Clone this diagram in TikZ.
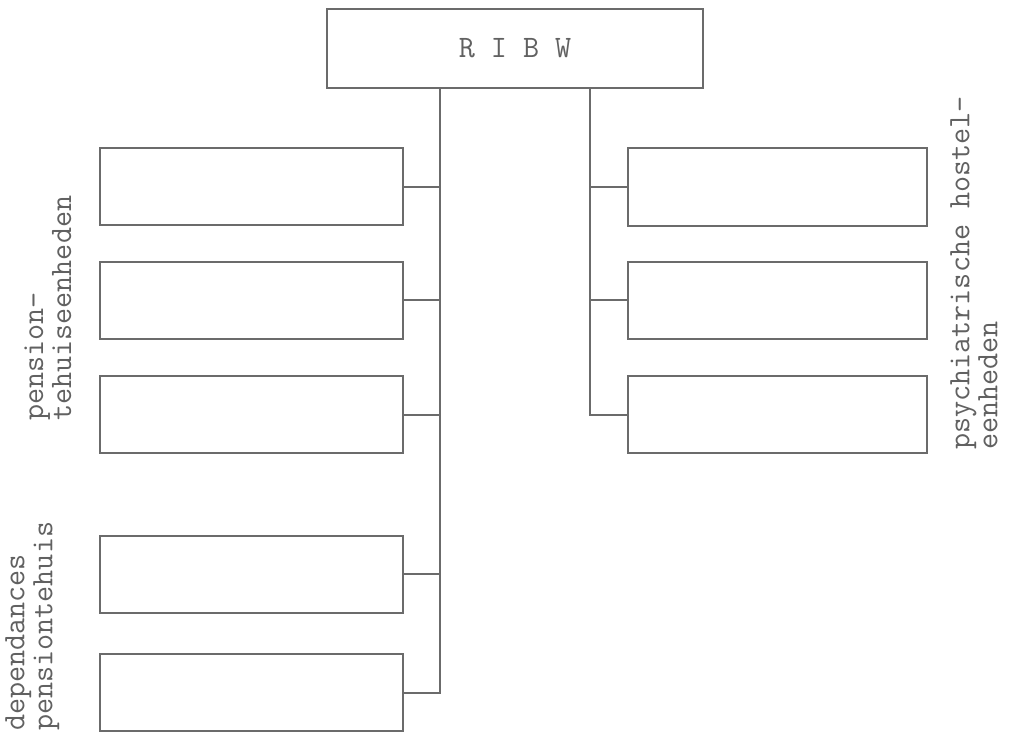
\documentclass[tikz,border=0pt]{standalone}
\usepackage{fontspec}
\begin{document}
\begin{tikzpicture}[x=0.75pt,y=-0.75pt,
  linecol/.style={draw=black!58, line width=1.5pt},
  unitbox/.style={linecol, fill=white, rectangle, inner sep=0pt},
  conn/.style={linecol, line cap=rect},
  lbl/.style={rotate=90, anchor=north west, inner sep=0pt, align=left,
    text=black!62, font=\fontsize{23.4}{21}\selectfont\ttfamily}]
\useasboundingbox (0,0) rectangle (1015,735);
% top box
\node[unitbox, minimum width=376*0.75pt, minimum height=79*0.75pt,
  text=black!62, font=\fontsize{23.4}{21}\selectfont\ttfamily] (top) at (515,48.5) {R I B W};
% left boxes
\foreach \n/\y in {l1/186.5, l2/300, l3/414.5, l4/574, l5/692.5}
  \node[unitbox, minimum width=303*0.75pt, minimum height=77*0.75pt] (\n) at (251.5,\y) {};
% right boxes
\foreach \n/\y in {r1/187, r2/300, r3/414.5}
  \node[unitbox, minimum width=299*0.75pt, minimum height=77*0.75pt] (\n) at (777.5,\y) {};
% spines
\coordinate (sL) at (440,88);
\coordinate (sR) at (590,88);
\draw[conn] (sL) |- (l5.east);
\foreach \n in {l1,l2,l3,l4}
  \draw[conn] (\n.east) -- (\n.east -| sL);
\draw[conn] (sR) |- (r3.west);
\foreach \n in {r1,r2}
  \draw[conn] (\n.west) -- (\n.west -| sR);
% labels
\node[lbl] (la) at (24,421) {pension—\\tehuiseenheden};
\node[lbl] (lb) at (5,731) {dependances\\pensiontehuis};
\node[lbl] (lc) at (950,450) {psychiatrische hostel—\\eenheden};
\end{tikzpicture}
\end{document}
